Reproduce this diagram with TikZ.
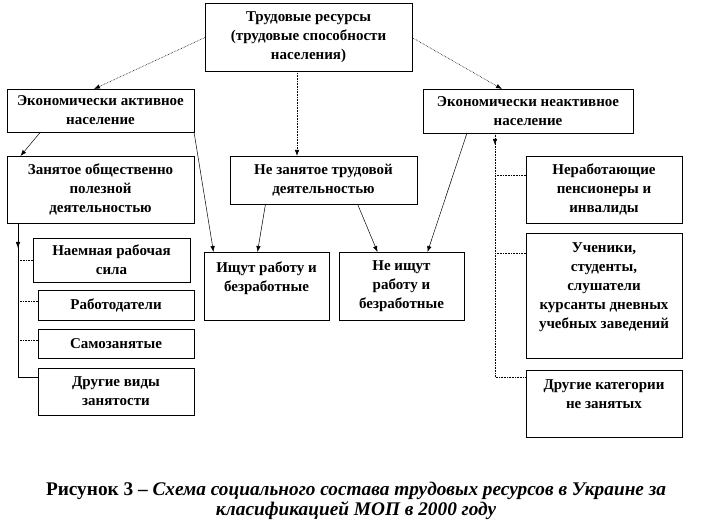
\documentclass[tikz,border=0pt]{standalone}
\usepackage{fontspec}
\setmainfont{Liberation Serif}
\usetikzlibrary{arrows.meta,calc}
\begin{document}
\begin{tikzpicture}[x=1pt,y=-1pt,
  box/.style={draw=black,line width=0.7pt,inner sep=0pt,outer sep=0pt,align=center,
    font=\fontsize{15}{19}\selectfont\bfseries},
  conn/.style={line width=0.5pt,black},
  dconn/.style={line width=0.6pt,black,densely dotted},
  arr/.style={-{Latex[length=6pt,width=4.5pt]}}]
\useasboundingbox (0,0) rectangle (712,529);
% boxes
\node[box,minimum width=207,minimum height=68] (top) at (308.5,37.5) {Трудовые ресурсы\\(трудовые способности\\населения)};
\node[box,minimum width=187,minimum height=43] (ea) at (100.5,110.5) {Экономически активное\\население};
\node[box,minimum width=210,minimum height=44] (ei) at (528,111) {Экономически неактивное\\население};
\node[box,minimum width=187,minimum height=67] (zan) at (100.5,189.5) {Занятое общественно\\полезной\\деятельностью};
\node[box,minimum width=187,minimum height=48] (nz) at (323.5,180) {Не занятое трудовой\\деятельностью};
\node[box,minimum width=156,minimum height=67] (pens) at (604,189.5) {Неработающие\\пенсионеры и\\инвалиды};
\node[box,minimum width=156,minimum height=125] (uch) at (604,295.5) {Ученики,\\студенты,\\слушатели\\курсанты дневных\\учебных заведений\\\mbox{}};
\node[box,minimum width=156,minimum height=67] (drk) at (604,403.5) {Другие категории\\не занятых\\\mbox{}};
\node[box,minimum width=157,minimum height=44] (nai) at (111.5,260) {Наемная рабочая\\сила};
\node[box,minimum width=156,minimum height=30] (rab) at (116,305) {Работодатели};
\node[box,minimum width=156,minimum height=29] (sam) at (116,343.5) {Самозанятые};
\node[box,minimum width=156,minimum height=47] (drv) at (116,391.5) {Другие виды\\занятости};
\node[box,minimum width=125,minimum height=68] (ish) at (266.5,286) {Ищут работу и\\безработные\\\mbox{}};
\node[box,minimum width=125,minimum height=68] (nish) at (401.5,286) {Не ищут\\работу и\\безработные};
% connectors from top
\draw[dconn,arr] (top.west) -- ([xshift=-6.5]ea.north);
\draw[dconn,arr] (top.east) -- ([xshift=-26]ei.north);
\draw[dconn,arr] ([xshift=-11.5]top.south) -- ([xshift=-11.5]top.south |- nz.north);
% active
\draw[conn,arr] ([xshift=-60]ea.south) -- ([xshift=-80]zan.north);
\draw[conn,arr] (ea.south east) -- ([xshift=-53]ish.north);
% not employed
\draw[conn,arr] ([xshift=-58]nz.south) -- ([xshift=-9]ish.north);
\draw[conn,arr] ([xshift=34]nz.south) -- ([xshift=-24]nish.north);
% inactive
\draw[conn,arr] ([xshift=-61]ei.south) -- ([xshift=26]nish.north);
\coordinate (rx) at ([xshift=-33]ei.south);
\draw[dconn,arr] (rx) -- ++(0,12);
\draw[dconn] (rx) |- ([yshift=26.5]drk.west);
\draw[dconn] ([yshift=14]pens.west) -- ([yshift=14]pens.west -| rx);
\draw[dconn] ([yshift=42.5]uch.west) -- ([yshift=42.5]uch.west -| rx);
% employed
\coordinate (lx) at ([xshift=-82.5]zan.south);
\draw[conn,arr] (lx) -- ++(0,25);
\draw[conn] (lx) |- ([yshift=14.5]drv.west);
\draw[dconn] (nai.west) -- (nai.west -| lx);
\draw[dconn] ([yshift=4]rab.west) -- ([yshift=4]rab.west -| lx);
\draw[dconn] ([yshift=3.5]sam.west) -- ([yshift=3.5]sam.west -| lx);
% caption
\node[align=center,font=\fontsize{19.3}{20.5}\selectfont\bfseries,inner sep=0pt] (cap) at (356,501)
  {Рисунок 3 – \textit{Схема социального состава трудовых ресурсов в Украине за}\\\textit{класификацией МОП в 2000 году}};
\end{tikzpicture}
\end{document}
